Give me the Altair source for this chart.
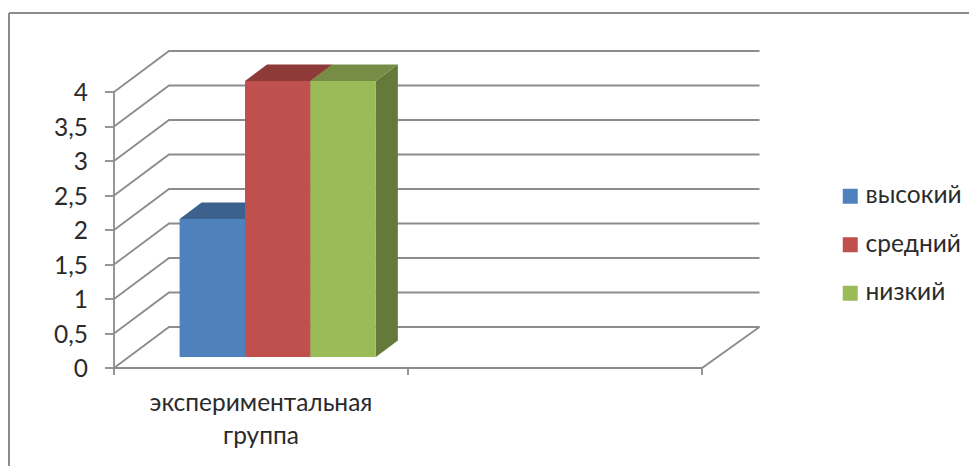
import altair as alt
import pandas as pd

# Chart values
groups = ["экспериментальная\nгруппа"]
series = ["высокий", "средний", "низкий"]
values = [2, 4, 4]
y_ticks = [0, 0.5, 1, 1.5, 2, 2.5, 3, 3.5, 4]
x_ticks = [0, 1, 2]

# Colours of the three visible faces of each bar
front_colors = ["#4F81BD", "#C0504D", "#9BBB59"]
top_colors = ["#3C618F", "#8E3A38", "#778D45"]
side_colors = ["#3A5E8C", "#8C3836", "#657A3A"]
LINE = "#8C8C8C"
TEXT = "#2B2B2B"
FONT = "Lato"
FONT_SIZE = 24.5

# Oblique projection: depth runs from 0 (front) to 1 (back wall)
W, H = 969, 466
CAT_PX, UNIT_PX = 294, 69
ORIGIN_X, ORIGIN_Y = 114, 368
DEPTH_X, DEPTH_Y = 55 / CAT_PX, 41 / UNIT_PX
BAR_START, BAR_WIDTH = 0.173, 0.2225
DEPTH_FRONT, DEPTH_BACK = 0.268, 0.668
EXTENT, BACK_EXTENT = 2, 590.5 / CAT_PX


def px(cat, depth):
    return cat + depth * DEPTH_X


def py(val, depth):
    return val + depth * DEPTH_Y


x_scale = alt.Scale(domain=[-ORIGIN_X / CAT_PX, (W - ORIGIN_X) / CAT_PX], nice=False, zero=False)
y_scale = alt.Scale(domain=[-(H - ORIGIN_Y) / UNIT_PX, ORIGIN_Y / UNIT_PX], nice=False, zero=False)
x_axis = alt.Axis(values=x_ticks, labels=False, domain=False, grid=False, tickSize=7,
                  tickColor=LINE, tickWidth=1.8, offset=-(H - ORIGIN_Y), translate=0)
y_axis = alt.Axis(values=y_ticks, domain=False, grid=False, tickSize=9, tickColor=LINE,
                  tickWidth=1.8, labelPadding=17, labelFontSize=FONT_SIZE, labelFont=FONT,
                  labelColor=TEXT, offset=-ORIGIN_X, labelOffset=2, translate=0,
                  labelExpr="replace(format(datum.value, ''), '.', ',')")
X = alt.X("x:Q", scale=x_scale, title=None, axis=x_axis)
Y = alt.Y("y:Q", scale=y_scale, title=None, axis=y_axis)
X_FLAT = alt.X("x:Q", scale=x_scale, title=None, axis=x_axis, stack=None)
Y_FLAT = alt.Y("y:Q", scale=y_scale, title=None, axis=y_axis, stack=None)

# Wall and floor lines
wall_rows = []
for v in y_ticks:
    for order, (c, d) in enumerate([(0, 0), (0, 1), (BACK_EXTENT, 1)]):
        wall_rows.append({"path": f"g{v}", "order": order, "x": px(c, d), "y": py(v, d)})
for order, (c, d) in enumerate([(0, 0), (EXTENT, 0), (BACK_EXTENT, 1)]):
    wall_rows.append({"path": "floor", "order": order, "x": px(c, d), "y": py(0, d)})
walls = (
    alt.Chart(pd.DataFrame(wall_rows))
    .mark_line(color=LINE, strokeWidth=1.8)
    .encode(x=X, y=Y, detail="path:N", order="order:Q")
)
y_line = (
    alt.Chart(pd.DataFrame({"x": [0], "y": [y_ticks[0]], "y2": [y_ticks[-1]]}))
    .mark_rule(color=LINE, strokeWidth=1.8)
    .encode(x=X, y=Y, y2="y2:Q")
)

# Bar faces
front_rows, top_rows, side_rows = [], [], []
for i, (name, val) in enumerate(zip(series, values)):
    c0 = BAR_START + i * BAR_WIDTH
    c1 = c0 + BAR_WIDTH
    front_rows.append({"series": name, "x": px(c0, DEPTH_FRONT), "x2": px(c1, DEPTH_FRONT),
                       "y": py(val, DEPTH_FRONT), "y2": py(0, DEPTH_FRONT)})
    for d in (DEPTH_FRONT, DEPTH_BACK):
        top_rows.append({"rank": i, "color": top_colors[i], "x": px(c0, d), "x2": px(c1, d),
                         "y": py(val, d)})
        side_rows.append({"rank": i, "color": side_colors[i], "x": px(c1, d),
                          "y": py(val, d), "y2": py(0, d)})

tops = (
    alt.Chart(pd.DataFrame(top_rows))
    .mark_area(orient="horizontal")
    .encode(x=X_FLAT, x2="x2:Q", y=Y, detail="rank:O", color=alt.Color("color:N", scale=None))
)
sides = (
    alt.Chart(pd.DataFrame(side_rows))
    .mark_area(orient="vertical")
    .encode(x=X, y=Y_FLAT, y2="y2:Q", detail="rank:O", color=alt.Color("color:N", scale=None))
)
fronts = (
    alt.Chart(pd.DataFrame(front_rows))
    .mark_rect()
    .encode(
        x=X, x2="x2:Q", y=Y, y2="y2:Q",
        color=alt.Color(
            "series:N",
            scale=alt.Scale(domain=series, range=front_colors),
            legend=alt.Legend(
                title=None, orient="none", legendX=838, legendY=184, symbolType="square",
                symbolSize=225, symbolStrokeWidth=0, labelFont=FONT, labelFontSize=FONT_SIZE,
                labelColor=TEXT, labelOffset=3, rowPadding=23.5,
            ),
        ),
    )
)

# Category caption under the first tick interval
caption = (
    alt.Chart(pd.DataFrame({"x": [0.5], "y": [-36 / UNIT_PX], "label": groups}))
    .mark_text(font=FONT, fontSize=FONT_SIZE, color=TEXT, lineBreak="\n", lineHeight=33, baseline="middle")
    .encode(x=X, y=Y, text="label:N")
)

# Outer border of the chart area
border_left = alt.Chart(pd.DataFrame({"a": [0]})).mark_rule(color=LINE, strokeWidth=2).encode(
    x=alt.value(9), y=alt.value(13), y2=alt.value(H))
border_top = alt.Chart(pd.DataFrame({"a": [0]})).mark_rule(color=LINE, strokeWidth=2).encode(
    y=alt.value(13), x=alt.value(9), x2=alt.value(W))

chart = (
    alt.layer(border_left, border_top, walls, y_line, sides, tops, fronts, caption)
    .resolve_scale(color="independent")
    .properties(width=W, height=H, padding=0, autosize=alt.AutoSizeParams(type="none"), background="#FFFFFF")
    .configure_view(stroke=None)
)

chart.save("out.html", embed_options={"renderer": "svg", "actions": False})
